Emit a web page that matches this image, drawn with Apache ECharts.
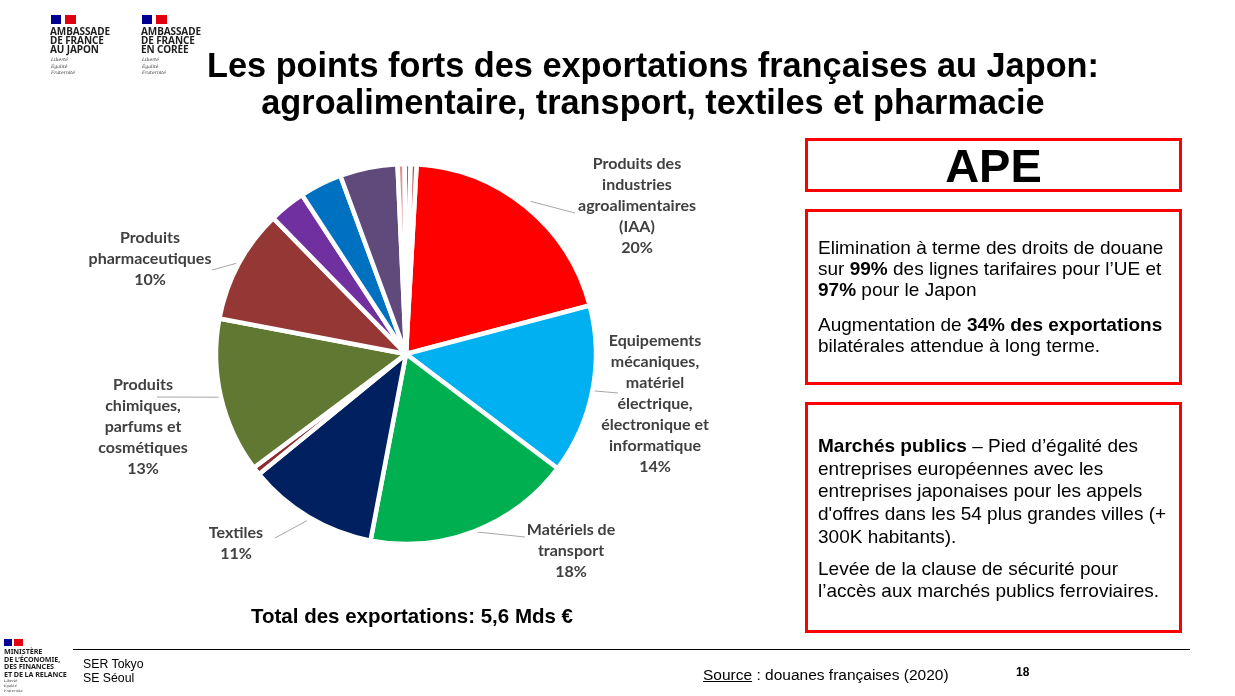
<!DOCTYPE html>
<html>
<head>
<meta charset="utf-8">
<script src="https://cdn.jsdelivr.net/npm/echarts@6/dist/echarts.min.js"></script>
<style>
  html,body{margin:0;padding:0;background:#fff;}
  #page{position:relative;width:1235px;height:696px;overflow:hidden;background:#fff;font-family:"Liberation Sans",Arial,sans-serif;}
  #chart{position:absolute;left:0;top:0;width:1235px;height:696px;}
  .abs{position:absolute;}
  .title{left:53px;top:47px;width:1200px;text-align:center;font-weight:bold;font-size:34.3px;line-height:37px;color:#000;}
  .box{border:3px solid #FF0000;box-sizing:border-box;left:805px;width:377px;}
  .box p{margin:0;white-space:nowrap;color:#000;font-size:19px;}
  .logo{font-family:"Noto Sans",sans-serif;font-weight:bold;font-size:10px;line-height:9px;color:#1e1e1e;letter-spacing:-0.1px;}
  .motto{font-family:"DejaVu Serif",serif;font-style:italic;font-size:4.6px;line-height:6.5px;color:#333;}
  .flagb{position:absolute;background:#000091;}
  .flagr{position:absolute;background:#E1000F;}
</style>
</head>
<body>
<div id="page">
  <div id="chart"></div>

  <!-- logos top -->
  <div class="flagb" style="left:51px;top:15px;width:10px;height:9px;"></div>
  <div class="flagr" style="left:65px;top:15px;width:11px;height:9px;"></div>
  <div class="abs logo" style="left:50px;top:27px;">AMBASSADE<br>DE FRANCE<br>AU JAPON</div>
  <div class="abs motto" style="left:51px;top:57px;">Liberté<br>Égalité<br>Fraternité</div>

  <div class="flagb" style="left:142px;top:15px;width:10px;height:9px;"></div>
  <div class="flagr" style="left:156px;top:15px;width:11px;height:9px;"></div>
  <div class="abs logo" style="left:141px;top:27px;">AMBASSADE<br>DE FRANCE<br>EN CORÉE</div>
  <div class="abs motto" style="left:142px;top:57px;">Liberté<br>Égalité<br>Fraternité</div>

  <div class="abs title">Les points forts des exportations françaises au Japon:<br>agroalimentaire, transport, textiles et pharmacie</div>

  <div class="abs box" style="top:138px;height:54px;text-align:center;">
    <div style="font-weight:bold;font-size:47px;line-height:50px;margin-top:0px;">APE</div>
  </div>

  <div class="abs box" style="top:209px;height:176px;padding:25px 0 0 10px;">
    <p style="line-height:21px;">Elimination à terme des droits de douane<br>sur <b>99%</b> des lignes tarifaires pour l’UE et<br><b>97%</b> pour le Japon</p>
    <p style="line-height:21px;margin-top:14px;">Augmentation de <b>34% des exportations</b><br>bilatérales attendue à long terme.</p>
  </div>

  <div class="abs box" style="top:402px;height:231px;padding:30px 0 0 10px;">
    <p style="line-height:22.7px;"><b>Marchés publics</b> – Pied d’égalité des<br>entreprises européennes avec les<br>entreprises japonaises pour les appels<br>d'offres dans les 54 plus grandes villes (+<br>300K habitants).</p>
    <p style="line-height:22.2px;margin-top:9px;">Levée de la clause de sécurité pour<br>l’accès aux marchés publics ferroviaires.</p>
  </div>

  <div class="abs" style="left:162px;top:603px;width:500px;text-align:center;font-weight:bold;font-size:20.5px;line-height:26px;">Total des exportations: 5,6 Mds €</div>

  <!-- footer -->
  <div class="abs" style="left:73px;top:649px;width:1117px;height:1px;background:#000;"></div>
  <div class="flagb" style="left:4px;top:639px;width:8px;height:7px;"></div>
  <div class="flagr" style="left:14px;top:639px;width:9px;height:7px;"></div>
  <div class="abs logo" style="left:4px;top:648px;font-size:7.2px;line-height:7.5px;">MINISTÈRE<br>DE L’ÉCONOMIE,<br>DES FINANCES<br>ET DE LA RELANCE</div>
  <div class="abs motto" style="left:4px;top:679px;font-size:3.6px;line-height:5px;">Liberté<br>Égalité<br>Fraternité</div>
  <div class="abs" style="left:83px;top:657px;font-size:12.3px;line-height:14px;">SER Tokyo<br>SE Séoul</div>
  <div class="abs" style="left:703px;top:665px;font-size:15.5px;line-height:19px;"><u>Source</u> : douanes françaises (2020)</div>
  <div class="abs" style="left:1016px;top:665px;font-size:12px;font-weight:bold;line-height:14px;">18</div>
</div>

<script>
// ---- data (shares of French exports to Japan, %, clockwise from top) ----
const categories = [
  "Produits des\nindustries\nagroalimentaires\n(IAA)",
  "Equipements\nmécaniques,\nmatériel\nélectrique,\nélectronique et\ninformatique",
  "Matériels de\ntransport",
  "Textiles",
  "Autre 1",
  "Produits\nchimiques,\nparfums et\ncosmétiques",
  "Produits\npharmaceutiques",
  "Autre 2",
  "Autre 3",
  "Autre 4",
  "Autre 5",
  "Autre 6",
  "Autre 7"
];
const values = [20, 14.4, 17.7, 11.1, 0.7, 13.2, 9.7, 3.1, 3.6, 4.9, 0.6, 0.5, 0.5];
const showLabels = [true, true, true, true, false, true, true, false, false, false, false, false, false];

// ---- styles / layout ----
const colors = ["#FF0000", "#00B0F0", "#00B050", "#002060", "#8B2B2B", "#617833", "#953735",
                "#7030A0", "#0070C0", "#604A7B", "#D99694", "#4F81BD", "#C0504D"];
// label block centres (layout only)
const labelPos = {0:[637,206], 1:[655,404], 2:[571,551], 3:[236,543], 5:[143,427], 6:[150,259]};
// leader line end points next to the labels (layout only)
const leaderEnd = {0:[575,213], 1:[618,393], 2:[525,537], 3:[275,538], 5:[157,397], 6:[212,270]};
// radial distance of the leader start beyond the pie edge
const leaderGap = {0:7, 1:1, 2:0.5, 3:4, 5:2, 6:2};

const chart = echarts.init(document.getElementById('chart'), null, {renderer:'canvas'});
chart.setOption({
  animation:false,
  series:[{
    type:'pie',
    center:[406,354],
    radius:190,
    startAngle:86.8,
    clockwise:true,
    avoidLabelOverlap:false,
    percentPrecision:0,
    emphasis:{disabled:true},
    itemStyle:{borderColor:'#ffffff', borderWidth:4.5},
    label:{
      show:true,
      position:'outside',
      alignTo:'none',
      formatter:'{b}\n{d}%',
      fontFamily:'Lato, "Open Sans", sans-serif',
      fontWeight:'bold',
      fontSize:16,
      lineHeight:21,
      color:'#404040',
      align:'center'
    },
    labelLine:{show:true, length:2, length2:20, lineStyle:{color:'#A6A6A6', width:1}},
    labelLayout:function(params){
      const i = params.dataIndex;
      const p = labelPos[i];
      if(!p) return {};
      const out = {x:p[0], y:p[1], align:'center', verticalAlign:'middle'};
      const pts = params.labelLinePoints;
      const e = leaderEnd[i];
      if (pts && pts.length >= 2 && e) {
        const s = [pts[1][0], pts[1][1]];
        out.labelLinePoints = [s, [(s[0]+e[0])/2, (s[1]+e[1])/2], [e[0], e[1]]];
      }
      return out;
    },
    data: categories.map((c,i)=>({
      name:c, value:values[i],
      itemStyle:{color:colors[i]},
      label:{show:showLabels[i]},
      labelLine:{show:showLabels[i], length:(leaderGap[i]!=null?leaderGap[i]:2)}
    }))
  }]
});
</script>
</body>
</html>
